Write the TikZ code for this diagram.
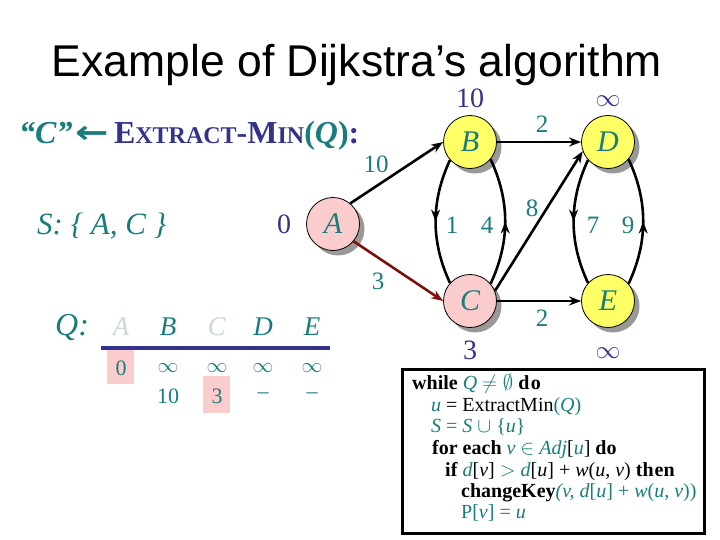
\documentclass[tikz,border=0pt]{standalone}
\usepackage{fontspec}
\setmainfont{Liberation Serif}
\newfontfamily\titlefont{Liberation Sans}
\newfontfamily\arrowfont{DejaVu Sans}
\usetikzlibrary{arrows.meta,shadows,decorations.markings}
\definecolor{tealc}{RGB}{25,125,125}
\definecolor{navyc}{RGB}{51,51,140}
\definecolor{pinkc}{RGB}{250,204,204}
\definecolor{yellowc}{RGB}{255,255,102}
\definecolor{darkredc}{RGB}{128,16,16}
\definecolor{grayletter}{RGB}{200,215,215}
\newcommand\setfs[1]{\fontsize{#1}{#1}\selectfont}
\begin{document}
\begin{tikzpicture}[x=1pt,y=1pt,
  vtx/.style={circle,draw=black,line width=0.8pt,minimum size=53pt,inner sep=0pt,
    font=\setfs{30}\itshape,text=tealc,
    drop shadow={shadow xshift=5pt,shadow yshift=-5pt,fill=black!40,opacity=1}},
  edgearrow/.style={line width=2.6pt,-{Stealth[length=12pt,width=9pt]}},
  midarrow/.style={line width=2.6pt,postaction={decorate},
    decoration={markings,mark=at position 0.5 with {\arrow{Stealth[length=12pt,width=9pt]}}}},
  wlabel/.style={text=tealc,font=\setfs{25},inner sep=0pt},
  dlabel/.style={text=navyc,font=\setfs{28},inner sep=0pt},
  qhead/.style={anchor=base,inner sep=0pt,font=\setfs{27}\itshape},
  qval/.style={text=tealc,font=\setfs{22},inner sep=0pt},
  code/.style={anchor=base west,inner sep=0pt,font=\setfs{20}}]
\useasboundingbox (0,0) rectangle (720,-540);
\fill[white] (0,0) rectangle (720,-540);

% title
\node[font=\titlefont\setfs{44.5},anchor=base,inner sep=0pt] (title) at (357,-77) {Example of Dijkstra’s algorithm};

% heading
\node[anchor=base west,inner sep=0pt,font=\setfs{32}] (hdr) at (19,-144)
 {{\color{tealc}\bfseries\itshape “C”}\kern3pt{\color{tealc}\arrowfont\bfseries\scalebox{1.25}[1]{←}}\kern5pt{\color{navyc}\bfseries E{\setfs{24}XTRACT}-M{\setfs{24}IN}}{\color{tealc}\bfseries(\textit{Q})}{\color{navyc}\bfseries :}};
\node[anchor=base west,inner sep=0pt,font=\setfs{31}\itshape,text=tealc] (Sset) at (37,-235) {S: \{ A, C \}};

% graph
\node[vtx,fill=pinkc] (A) at (333,-224) {A};
\node[vtx,fill=yellowc] (B) at (470,-142) {B};
\node[vtx,fill=pinkc] (C) at (470,-301) {C};
\node[vtx,fill=yellowc] (D) at (608,-142) {D};
\node[vtx,fill=yellowc] (E) at (608,-301) {E};

\draw[edgearrow] (A.50) -- (B.west);
\draw[edgearrow,darkredc] (A.-40) -- (C.west);
\draw[edgearrow] (B.east) -- (D.west);
\draw[edgearrow] (C.east) -- (E.west);
\draw[edgearrow] (C.22) -- (D.200);
\draw[midarrow] (B.222) to[out=245,in=115,looseness=0.95] (C.138);
\draw[midarrow] (C.40) to[out=65,in=-65,looseness=0.95] (B.-40);
\draw[midarrow] (D.222) to[out=245,in=115,looseness=0.95] (E.138);
\draw[midarrow] (E.40) to[out=65,in=-65,looseness=0.95] (D.-40);

% edge weights
\node[wlabel] (wab) at (376,-164) {10};
\node[wlabel] (wac) at (378,-281) {3};
\node[wlabel] (wbd) at (542,-124) {2};
\node[wlabel] (wce) at (542,-318) {2};
\node[wlabel] (wcd) at (532,-208) {8};
\node[wlabel] (wbc) at (452,-225) {1};
\node[wlabel] (wcb) at (487,-225) {4};
\node[wlabel] (wde) at (593,-225) {7};
\node[wlabel] (wed) at (628,-225) {9};

% distances
\node[dlabel] (dA) at (284,-224) {0};
\node[dlabel] (dB) at (470,-98) {10};
\node[dlabel] (dD) at (608,-101) {$\infty$};
\node[dlabel] (dC) at (470,-350) {3};
\node[dlabel] (dE) at (608,-353) {$\infty$};

% queue table
\node[anchor=base west,inner sep=0pt,font=\setfs{32}\itshape,text=tealc] (Q) at (55,-335) {Q:};
\node[qhead,text=grayletter] (hA) at (121,-335) {A};
\node[qhead,text=tealc] (hB) at (168,-335) {B};
\node[qhead,text=grayletter] (hC) at (217,-335) {C};
\node[qhead,text=tealc] (hD) at (263,-335) {D};
\node[qhead,text=tealc] (hE) at (312,-335) {E};
\draw[navyc,line width=4pt] (101,-348) -- (330,-348);
\fill[pinkc] (107,-350) rectangle (134,-384);
\fill[pinkc] (203,-376) rectangle (230,-413);
\node[qval,anchor=base] (vA1) at (121,-375) {0};
\node[qval] (vB1) at (168,-368) {$\infty$};
\node[qval] (vC1) at (217,-368) {$\infty$};
\node[qval] (vD1) at (263,-368) {$\infty$};
\node[qval] (vE1) at (312,-368) {$\infty$};
\node[qval,anchor=base] (vB2) at (168,-403) {10};
\node[qval,anchor=base] (vC2) at (217,-403) {3};
\node[qval] (vD2) at (263,-396) {--};
\node[qval] (vE2) at (312,-396) {--};

% pseudocode
\draw[line width=3pt] (402,-369) rectangle (704,-533);
\node[code] (l1) at (412,-389) {\textbf{while} {\color{tealc}\textit{Q} $\neq\emptyset$} \textbf{d\kern1.5pt o}};
\node[code] (l2) at (431,-411) {{\color{tealc}\textit{u}} = ExtractMin{\color{tealc}(\textit{Q})}};
\node[code] (l3) at (431,-432) {\color{tealc}\textit{S} = \textit{S} $\cup$ \{\textit{u}\}};
\node[code] (l4) at (432,-454) {\textbf{for each} {\color{tealc}\textit{v} $\in$ \textit{Adj}}[{\color{tealc}\textit{u}}] \textbf{do}};
\node[code] (l5) at (445,-476) {\textbf{if} {\color{tealc}\textit{d}}[\textit{v}] {\color{tealc}$>$ \textit{d}}[\textit{u}] + \textit{w}(\textit{u}, \textit{v}) \textbf{th\kern1pt en}};
\node[code] (l6) at (461,-497) {\textbf{changeKey}{\color{tealc}\textit{(v, d}[\textit{u}] + \textit{w}(\textit{u}, \textit{v}))}};
\node[code] (l7) at (461,-518) {\color{tealc}P[\textit{v}] = \textit{u}};
\end{tikzpicture}
\end{document}
